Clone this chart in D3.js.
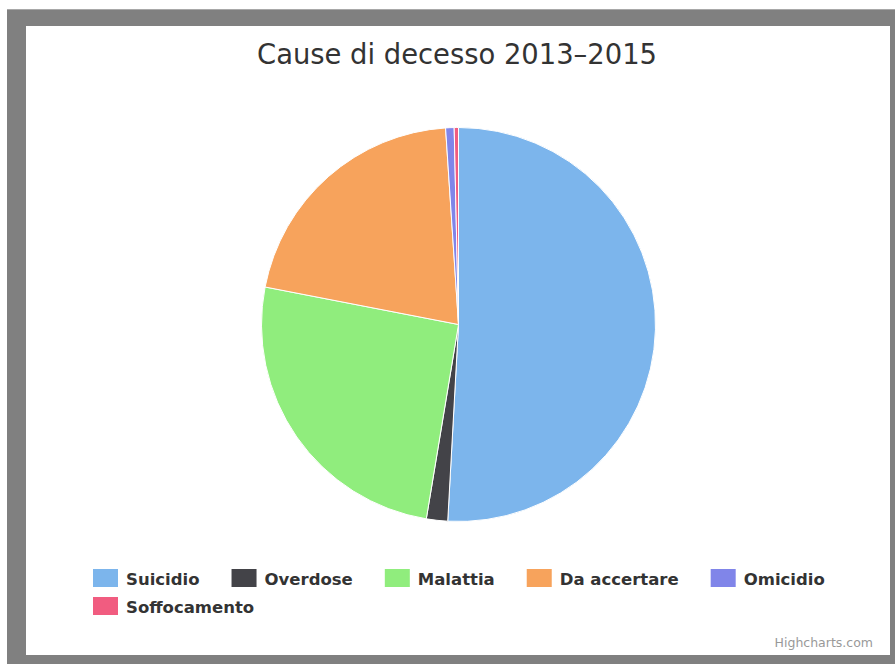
<!DOCTYPE html>
<html>
<head>
<meta charset="utf-8">
<script src="https://cdn.jsdelivr.net/npm/d3@7"></script>
<style>
  html, body { margin: 0; padding: 0; background: #ffffff; }
  svg { display: block; }
</style>
</head>
<body>
<svg id="chart" width="895" height="664"></svg>
<script>
const categories = ["Suicidio", "Overdose", "Malattia", "Da accertare", "Omicidio", "Soffocamento"];
const values = [146, 5, 73, 60, 2, 1];
const colors = ["#7cb5ec", "#434348", "#90ed7d", "#f7a35c", "#8085e9", "#f15c80"];
const titleText = "Cause di decesso 2013–2015";
const creditText = "Highcharts.com";

const svg = d3.select("#chart");
const W = 895, H = 664;

// frame
svg.append("rect").attr("x", 7).attr("y", 9).attr("width", W - 7).attr("height", H - 9).attr("fill", "#808080");
svg.append("rect").attr("x", 7).attr("y", 9).attr("width", W - 7).attr("height", 1).attr("fill", "#a8a8a8");
svg.append("rect").attr("x", 26).attr("y", 26).attr("width", 864).attr("height", 629).attr("fill", "#ffffff");

// title
svg.append("text")
  .attr("x", 457).attr("y", 64)
  .attr("text-anchor", "middle")
  .attr("font-family", "'DejaVu Sans Condensed', 'Liberation Sans Narrow', 'DejaVu Sans', sans-serif")
  .attr("font-size", 29)
  .attr("fill", "#333333")
  .attr("textLength", 400)
  .attr("lengthAdjust", "spacingAndGlyphs")
  .text(titleText);

// pie
const cx = 458.5, cy = 324.5, r = 197;
const data = categories.map((c, i) => ({ name: c, value: values[i], color: colors[i] }));
const pie = d3.pie().value(d => d.value).sort(null);
const arc = d3.arc().innerRadius(0).outerRadius(r);
const g = svg.append("g").attr("transform", `translate(${cx},${cy})`);
g.selectAll("path").data(pie(data)).join("path")
  .attr("d", arc)
  .attr("fill", d => d.data.color)
  .attr("stroke", "#ffffff")
  .attr("stroke-width", 1)
  .attr("stroke-linejoin", "round");

// legend
const legend = svg.append("g");
const fontLegend = "'DejaVu Sans', Verdana, sans-serif";
const rowY = [569, 597];
const startX = 93, maxX = 860, symW = 25, symH = 18, textGap = 8, itemGap = 32;
let x = startX, row = 0;
data.forEach(d => {
  const item = legend.append("g");
  const t = item.append("text")
    .attr("font-family", fontLegend)
    .attr("font-weight", "bold")
    .attr("font-size", 16.5)
    .attr("fill", "#333333")
    .text(d.name);
  const tw = t.node().getComputedTextLength();
  const itemW = symW + textGap + tw;
  if (x + itemW > maxX) { row += 1; x = startX; }
  const y = rowY[row];
  item.insert("rect", "text")
    .attr("x", x).attr("y", y).attr("width", symW).attr("height", symH)
    .attr("fill", d.color);
  t.attr("x", x + symW + textGap).attr("y", y + 16);
  x += itemW + itemGap;
});

// credit
svg.append("text")
  .attr("x", 873).attr("y", 647)
  .attr("text-anchor", "end")
  .attr("font-family", "'DejaVu Sans', sans-serif")
  .attr("font-size", 12.5)
  .attr("fill", "#999999")
  .text(creditText);
</script>
</body>
</html>
